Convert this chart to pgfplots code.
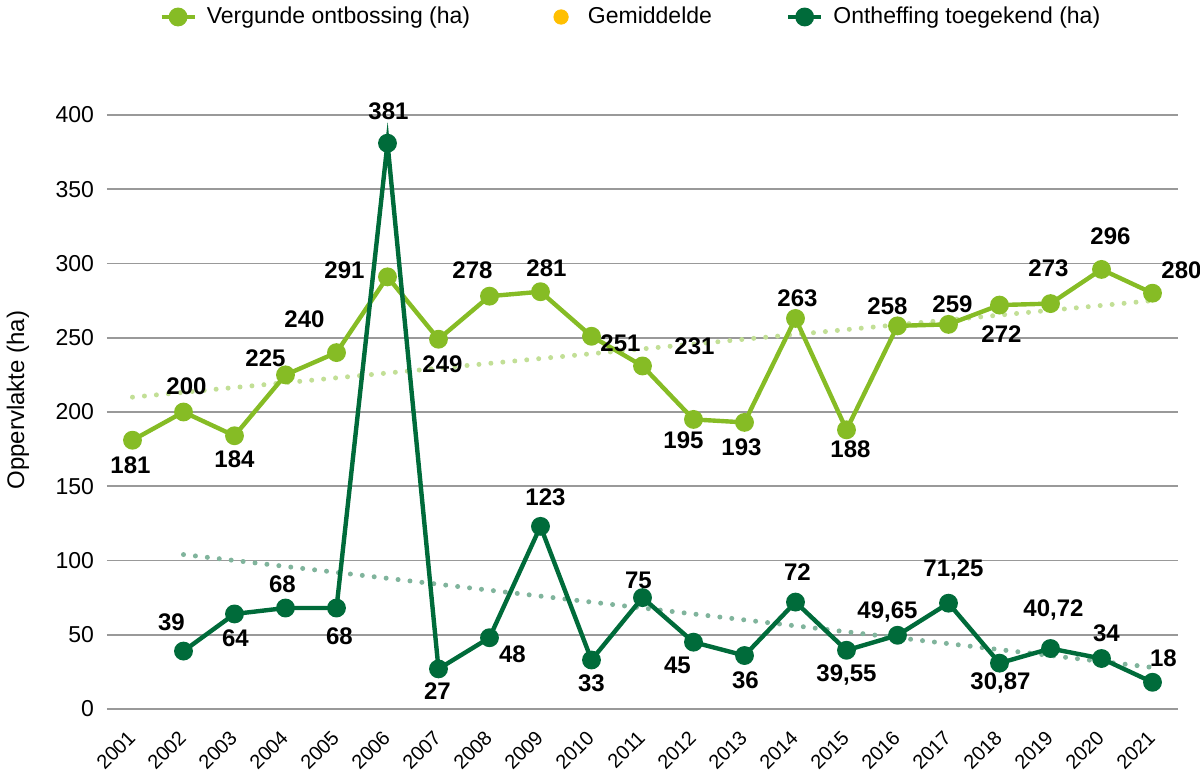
\documentclass[border=0pt]{standalone}
\usepackage{pgfplots}
\pgfplotsset{compat=1.18}
\usepackage{pgfplotstable}
\usepackage{fontspec}
\setmainfont{Liberation Sans}
\usetikzlibrary{calc}

\definecolor{lgreen}{HTML}{86BC25}
\definecolor{dgreen}{HTML}{006B3A}
\definecolor{ltrend}{HTML}{C2DF96}
\definecolor{dtrend}{HTML}{80B49C}
\definecolor{avgyel}{HTML}{FFBF00}
\definecolor{gridgray}{HTML}{999999}

% x y label, dx dy = label offset in pt
\pgfplotstableread{
x y lbl dx dy
2001 181 181 -1 -12.5
2002 200 200 1.5 13
2003 184 184 0 -11.5
2004 225 225 -10 8.5
2005 240 240 -16 16.5
2006 291 291 -21.5 3.5
2007 249 249 2 -12.5
2008 278 278 -8.5 13
2009 281 281 3 11.5
2010 251 251 14.5 -3.5
2011 231 231 26 10
2012 195 195 -5 -10.5
2013 193 193 -1.5 -12.5
2014 263 263 1 10
2015 188 188 2 -9.5
2016 258 258 -5 10
2017 259 259 2 10
2018 272 272 1 -14.5
2019 273 273 -1 17.5
2020 296 296 4.5 16.5
2021 280 280 14.5 11.5
}\vergund

\pgfplotstableread{
x y lbl dx dy
2002 39 39 -6 14.5
2003 64 64 0.5 -12
2004 68 68 -1.5 12
2005 68 68 1.5 -14
2006 381 381 0.5 16
2007 27 27 -0.5 -11
2008 48 48 11.5 -8.5
2009 123 123 2.5 14.5
2010 33 33 0 -11.5
2011 75 75 -2 8.5
2012 45 45 -8 -11.5
2013 36 36 0.5 -12.5
2014 72 72 1 15
2015 39.55 39,55 0 -12.5
2016 49.65 49,65 -5 11.5
2017 71.25 71,25 2.5 16.5
2018 30.87 30,87 0.5 -10
2019 40.72 40,72 1.5 19.5
2020 34 34 2.5 12.5
2021 18 18 5.5 12
}\ontheffing

\pgfplotsset{
    lbls/.style={
        nodes near coords,
        point meta=explicit symbolic,
        visualization depends on={\thisrow{dx} \as \lblx},
        visualization depends on={\thisrow{dy} \as \lbly},
        nodes near coords style={font=\fontsize{12}{14}\selectfont\bfseries, text=black, anchor=center, xshift=\lblx pt, yshift=\lbly pt},
    },
}

\begin{document}
\begin{tikzpicture}
\begin{axis}[
    name=ax,
    scale only axis,
    width=535.5pt,
    height=297pt,
    xmin=2000.5, xmax=2021.5,
    ymin=0, ymax=400,
    xtick={2001,...,2021},
    ytick={0,50,...,400},
    ymajorgrids=true,
    grid style={gridgray, line width=0.8pt},
    axis line style={draw=none},
    major tick length=0pt,
    clip=false,
    /pgf/number format/assume math mode=true,
    /pgf/number format/1000 sep={},
    xticklabel style={font=\fontsize{10}{12}\selectfont, xshift=-3pt, yshift=-8.5pt, rotate=45, anchor=north east, inner sep=1pt},
    yticklabel style={font=\fontsize{11.5}{13}\selectfont, xshift=-3pt},
    ylabel={Oppervlakte (ha)},
    every axis y label/.style={at={(rel axis cs:0,0.52)}, xshift=-44.5pt, rotate=90, anchor=center, font=\fontsize{12}{14}\selectfont},
    legend columns=3,
    legend style={draw=none, at={(0.49,1.165)}, anchor=center,
        font=\fontsize{11.5}{13}\selectfont,
        /tikz/every odd column/.append style={column sep=3pt},
        /tikz/every even column/.append style={column sep=35pt}},
    legend cell align=left,
    legend image code/.code={\path (0cm,0cm) (0.58cm,0cm);
        \draw[mark repeat=2,mark phase=2,#1] plot coordinates {(0cm,0cm) (0.29cm,0cm) (0.58cm,0cm)};},
]
% trend lines
\addplot[ltrend, line width=2.5pt, line cap=round, dash pattern=on 0pt off 6pt, forget plot] coordinates {(2001,210) (2021,275)};
\addplot[dtrend, line width=2.5pt, line cap=round, dash pattern=on 0pt off 6pt, forget plot] coordinates {(2002,104) (2021,28)};

\addplot[lgreen, line width=2.2pt, mark=*, mark size=3.6pt, lbls] table[x=x, y=y, meta=lbl] {\vergund};
\addlegendentry{Vergunde ontbossing (ha)}
\addlegendimage{only marks, mark=*, mark size=3.6pt, color=avgyel}
\addlegendentry{Gemiddelde}
\addplot[dgreen, line width=2.2pt, mark=*, mark size=3.6pt, lbls] table[x=x, y=y, meta=lbl] {\ontheffing};
\addlegendentry{Ontheffing toegekend (ha)}
\end{axis}
\pgfresetboundingbox
\path[use as bounding box] ($(ax.south west)+(-53.5pt,-33.5pt)$) rectangle ($(ax.north east)+(11pt,57.5pt)$);
\end{tikzpicture}
\end{document}
